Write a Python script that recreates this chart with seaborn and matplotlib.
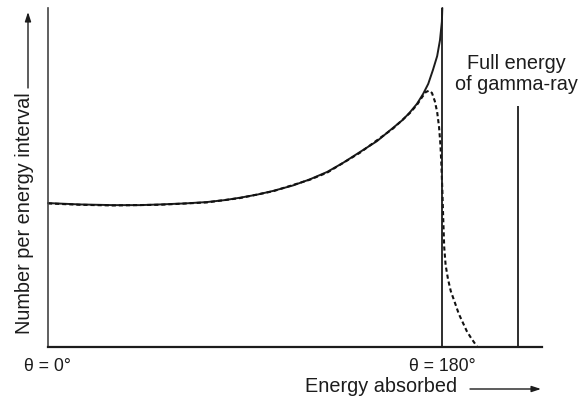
import matplotlib
matplotlib.use("Agg")
import matplotlib.pyplot as plt
import seaborn as sns
import pandas as pd

# ---- data (energy normalised to full gamma-ray energy = 1, counts normalised) ----
solid_x = [0.0, 0.068, 0.138, 0.196, 0.238, 0.291, 0.338, 0.377, 0.409, 0.445,
           0.479, 0.521, 0.557, 0.594, 0.628, 0.664, 0.700, 0.734, 0.755, 0.770,
           0.785, 0.798, 0.809, 0.819, 0.828, 0.834, 0.838, 0.839]
solid_y = [0.424, 0.420, 0.418, 0.418, 0.420, 0.423, 0.427, 0.433, 0.440, 0.449,
           0.460, 0.476, 0.494, 0.516, 0.543, 0.575, 0.607, 0.646, 0.670, 0.692,
           0.717, 0.746, 0.776, 0.817, 0.858, 0.905, 0.959, 1.000]

dashed_x = [0.0, 0.068, 0.138, 0.238, 0.338, 0.409, 0.479, 0.557, 0.594, 0.664,
            0.734, 0.770, 0.785, 0.796, 0.804, 0.811, 0.817, 0.823, 0.828, 0.832,
            0.835, 0.837, 0.839, 0.841, 0.843, 0.846, 0.851, 0.857, 0.866, 0.874,
            0.883, 0.891, 0.900, 0.913]
dashed_y = [0.423, 0.419, 0.417, 0.419, 0.426, 0.439, 0.459, 0.493, 0.514, 0.573,
            0.644, 0.690, 0.714, 0.737, 0.752, 0.756, 0.749, 0.725, 0.693, 0.649,
            0.596, 0.536, 0.463, 0.374, 0.294, 0.241, 0.200, 0.164, 0.129, 0.097,
            0.070, 0.046, 0.026, 0.000]

line_x = [0.839, 1.0]          # Compton edge (θ = 180°), full energy peak
line_top = [1.0, 0.711]

tick_pos = [0.0, 0.839]
tick_labels = ["θ = 0°", "θ = 180°"]

x_label = "Energy absorbed"
y_label = "Number per energy interval"
peak_label = "Full energy\nof gamma-ray"

# ---- style ----
sns.set_style("white")
plt.rcParams["font.family"] = ["Liberation Sans", "DejaVu Sans"]
ink = "#1c1c1c"

fig = plt.figure(figsize=(5.79, 4.0), dpi=100)
ax = fig.add_axes([48 / 579, 53.3 / 400, 494 / 579, 338.7 / 400])

solid = pd.DataFrame({"E": solid_x, "N": solid_y})
dashed = pd.DataFrame({"E": dashed_x, "N": dashed_y})

sns.lineplot(data=solid, x="E", y="N", ax=ax, color=ink, lw=1.4,
             estimator=None, sort=False, clip_on=False)
sns.lineplot(data=dashed, x="E", y="N", ax=ax, color="#111111", lw=1.5,
             estimator=None, sort=False, dashes=False, clip_on=False,
             linestyle=(0, (2.0, 1.4)))

ax.vlines(line_x, 0, line_top, color=ink, lw=1.3, clip_on=False)

ax.set_xlim(0, 494 / 470)
ax.set_ylim(0, 1.0)

for s in ["top", "right"]:
    ax.spines[s].set_visible(False)
ax.spines["left"].set_color("#444444")
ax.spines["left"].set_linewidth(1.2)
ax.spines["bottom"].set_color(ink)
ax.spines["bottom"].set_linewidth(1.6)

ax.set_xticks(tick_pos)
ax.set_xticklabels(tick_labels, fontsize=12.8, color=ink)
ax.tick_params(axis="x", length=0, pad=8)
ax.set_yticks([])
ax.set_xlabel("")
ax.set_ylabel("")

# axis titles with arrows
fig.text(381 / 579, (400 - 387) / 400, x_label, ha="center", va="center",
         fontsize=14.3, color=ink)
ax.annotate("", xy=(541 / 579, 11 / 400), xytext=(470 / 579, 11 / 400),
            xycoords="figure fraction", textcoords="figure fraction",
            arrowprops=dict(arrowstyle="-|>,head_length=0.55,head_width=0.18",
                            color=ink, lw=1.0, shrinkA=0, shrinkB=0))

fig.text(25 / 579, (400 - 213) / 400, y_label, ha="center", va="center",
         rotation=90, fontsize=14.3, color=ink)
ax.annotate("", xy=(28 / 579, (400 - 12) / 400), xytext=(28 / 579, (400 - 88) / 400),
            xycoords="figure fraction", textcoords="figure fraction",
            arrowprops=dict(arrowstyle="-|>,head_length=0.55,head_width=0.18",
                            color=ink, lw=1.0, shrinkA=0, shrinkB=0))

fig.text(516 / 579, (400 - 74) / 400, peak_label, ha="center", va="center",
         fontsize=14.3, color=ink, linespacing=1.1)

fig.savefig("out.png", dpi=100, facecolor="white")
